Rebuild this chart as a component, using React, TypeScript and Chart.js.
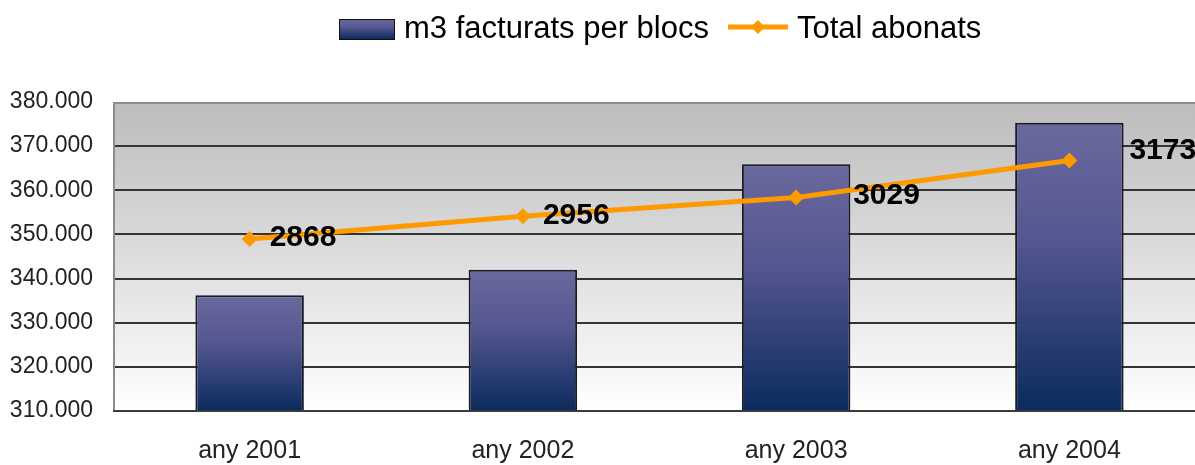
import React, { useEffect, useRef } from 'react';
import { Chart, registerables } from 'chart.js';

Chart.register(...registerables);

// ---- data ----
const categories = ['any 2001', 'any 2002', 'any 2003', 'any 2004'];
const seriesNames = ['m3 facturats per blocs', 'Total abonats'];
const m3Values = [336200, 342000, 365900, 375300];
const subscriberValues = [2868, 2956, 3029, 3173];
const yMin = 310000;
const yMax = 380000;
const yStep = 10000;
const y2Min = 2200;
const y2Max = 3400;

// ---- style ----
const FONT = '"Liberation Sans", Arial, Helvetica, sans-serif';
const ORANGE = '#FF9900';
const labelOffsets: [number, number][] = [
  [20, -1],
  [20, -1],
  [57, -2],
  [60, -10],
];

function fmtThousands(v: number): string {
  return String(Math.round(v)).replace(/\B(?=(\d{3})+(?!\d))/g, '.');
}

function barGradient(c: CanvasRenderingContext2D, top: number, bottom: number) {
  const g = c.createLinearGradient(0, top, 0, bottom);
  g.addColorStop(0, '#6a699d');
  g.addColorStop(0.4, '#555790');
  g.addColorStop(1, '#0b2b5d');
  return g;
}

const backgroundPlugin = {
  id: 'plotBg',
  beforeDraw(chart: any) {
    const { ctx, chartArea: a } = chart;
    if (!a) return;
    const g = ctx.createLinearGradient(0, a.top, 0, a.bottom);
    g.addColorStop(0, '#bcbcbc');
    g.addColorStop(0.5, '#dddddd');
    g.addColorStop(1, '#ffffff');
    ctx.save();
    ctx.fillStyle = g;
    ctx.fillRect(a.left, a.top, a.right - a.left, a.bottom - a.top);
    ctx.restore();
  },
  afterDatasetsDraw(chart: any) {
    const { ctx, chartArea: a } = chart;
    ctx.save();
    ctx.strokeStyle = '#8c8c8c';
    ctx.lineWidth = 2;
    ctx.beginPath();
    ctx.moveTo(a.left + 1, a.bottom);
    ctx.lineTo(a.left + 1, a.top + 1);
    ctx.lineTo(a.right, a.top + 1);
    ctx.stroke();
    ctx.strokeStyle = '#3c3c3c';
    ctx.beginPath();
    ctx.moveTo(a.left, a.bottom);
    ctx.lineTo(a.right, a.bottom);
    ctx.stroke();
    ctx.restore();
  },
};

const labelsPlugin = {
  id: 'pointLabels',
  afterDatasetsDraw(chart: any) {
    const meta = chart.getDatasetMeta(0);
    const { ctx } = chart;
    ctx.save();
    ctx.font = `bold 30px ${FONT}`;
    ctx.fillStyle = '#000';
    ctx.textAlign = 'left';
    ctx.textBaseline = 'middle';
    meta.data.forEach((pt: any, i: number) => {
      const [dx, dy] = labelOffsets[i] || [20, 0];
      ctx.fillText(String(subscriberValues[i]), pt.x + dx, pt.y + dy);
    });
    ctx.restore();
  },
};

const legendPlugin = {
  id: 'customLegend',
  afterDraw(chart: any) {
    const { ctx } = chart;
    ctx.save();
    ctx.font = `31px ${FONT}`;
    ctx.textBaseline = 'alphabetic';
    let x = 339;
    ctx.fillStyle = barGradient(ctx, 19, 39);
    ctx.fillRect(x, 19, 55, 20);
    ctx.strokeStyle = '#111';
    ctx.lineWidth = 1;
    ctx.strokeRect(x + 0.5, 19.5, 55, 20);
    x += 65;
    ctx.fillStyle = '#000';
    ctx.fillText(seriesNames[0], x, 38);
    x += ctx.measureText(seriesNames[0]).width + 19;
    ctx.strokeStyle = ORANGE;
    ctx.lineWidth = 5;
    ctx.beginPath();
    ctx.moveTo(x, 27);
    ctx.lineTo(x + 60, 27);
    ctx.stroke();
    ctx.fillStyle = ORANGE;
    const cx = x + 30;
    ctx.beginPath();
    ctx.moveTo(cx, 20);
    ctx.lineTo(cx + 7, 27);
    ctx.lineTo(cx, 34);
    ctx.lineTo(cx - 7, 27);
    ctx.closePath();
    ctx.fill();
    x += 69;
    ctx.fillStyle = '#000';
    ctx.fillText(seriesNames[1], x, 38);
    ctx.restore();
  },
};

export default function App() {
  const ref = useRef<HTMLCanvasElement>(null);

  useEffect(() => {
    if (!ref.current) return;
    const chart = new Chart(ref.current, {
      type: 'bar',
      data: {
        labels: categories,
        datasets: [
          {
            type: 'line',
            label: seriesNames[1],
            data: subscriberValues,
            yAxisID: 'y2',
            borderColor: ORANGE,
            backgroundColor: ORANGE,
            borderWidth: 5,
            pointStyle: 'rectRot',
            pointRadius: 8,
            pointBorderWidth: 0,
            pointBackgroundColor: ORANGE,
            tension: 0,
            order: 0,
          } as any,
          {
            type: 'bar',
            label: seriesNames[0],
            data: m3Values,
            yAxisID: 'y',
            backgroundColor: (c: any) => {
              const chart = c.chart;
              const a = chart.chartArea;
              if (!a || c.type !== 'data') return '#4e5288';
              const top = chart.scales.y.getPixelForValue(c.raw);
              return barGradient(chart.ctx, top, a.bottom);
            },
            borderColor: '#1a1a28',
            borderWidth: 2,
            barPercentage: 0.397,
            categoryPercentage: 1,
            order: 1,
          } as any,
        ],
      },
      options: {
        responsive: false,
        animation: false,
        layout: { padding: { top: 102, left: 0, right: 0, bottom: 0 } },
        plugins: {
          legend: { display: false },
          tooltip: { enabled: false },
          title: { display: false },
        },
        scales: {
          x: {
            offset: true,
            grid: { display: false, drawTicks: false },
            border: { display: false },
            ticks: {
              padding: 25,
              color: '#222',
              font: { family: FONT, size: 25 },
            },
            afterFit: (s: any) => {
              s.height = 54;
            },
          },
          y: {
            position: 'left',
            min: yMin,
            max: yMax,
            grid: {
              drawTicks: false,
              lineWidth: 2,
              color: (c: any) =>
                c.tick && (c.tick.value === yMax || c.tick.value === yMin)
                  ? 'rgba(0,0,0,0)'
                  : '#333333',
            },
            border: { display: false },
            ticks: {
              stepSize: yStep,
              padding: 20,
              color: '#222',
              font: { family: FONT, size: 23 },
              callback: (v: any) => fmtThousands(Number(v)),
            },
            afterFit: (s: any) => {
              s.width = 113;
            },
          },
          y2: {
            display: false,
            position: 'right',
            min: y2Min,
            max: y2Max,
            grid: { display: false },
          },
        },
      },
      plugins: [backgroundPlugin, labelsPlugin, legendPlugin],
    });
    return () => chart.destroy();
  }, []);

  return (
    <div
      style={{
        position: 'fixed',
        left: 0,
        top: 0,
        width: 1195,
        height: 465,
        overflow: 'hidden',
        background: '#fff',
      }}
    >
      <canvas
        ref={ref}
        width={1214}
        height={465}
        style={{ width: 1214, height: 465, display: 'block' }}
      />
    </div>
  );
}
